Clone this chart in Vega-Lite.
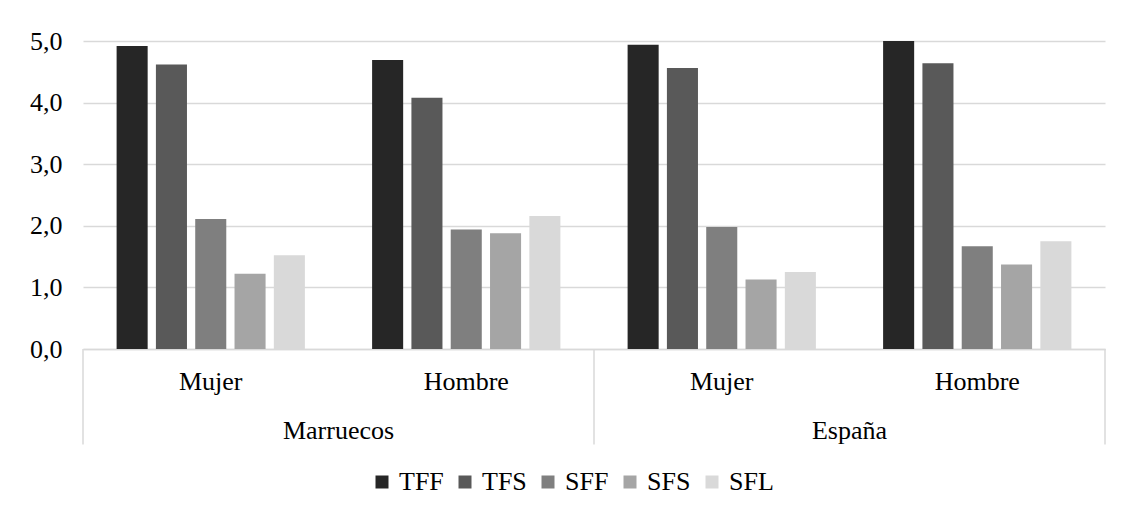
{
  "$schema": "https://vega.github.io/schema/vega-lite/v6.json",
  "autosize": {"type": "none"},
  "padding": {"left": 83, "top": 41, "right": 18, "bottom": 164},
  "width": 1022,
  "height": 308,
  "background": "white",
  "config": {
    "view": {"stroke": null},
    "font": "Liberation Serif",
    "axis": {"labelFont": "Liberation Serif", "labelColor": "#000000", "titleFont": "Liberation Serif"},
    "legend": {"labelFont": "Liberation Serif"}
  },
  "resolve": {"axis": {"x": "independent"}},
  "layer": [
    {
      "data": {
        "values": [
          {"grp": "Marruecos|Mujer", "serie": "TFF", "valor": 4.92},
          {"grp": "Marruecos|Mujer", "serie": "TFS", "valor": 4.62},
          {"grp": "Marruecos|Mujer", "serie": "SFF", "valor": 2.11},
          {"grp": "Marruecos|Mujer", "serie": "SFS", "valor": 1.22},
          {"grp": "Marruecos|Mujer", "serie": "SFL", "valor": 1.52},
          {"grp": "Marruecos|Hombre", "serie": "TFF", "valor": 4.69},
          {"grp": "Marruecos|Hombre", "serie": "TFS", "valor": 4.08},
          {"grp": "Marruecos|Hombre", "serie": "SFF", "valor": 1.94},
          {"grp": "Marruecos|Hombre", "serie": "SFS", "valor": 1.88},
          {"grp": "Marruecos|Hombre", "serie": "SFL", "valor": 2.16},
          {"grp": "España|Mujer", "serie": "TFF", "valor": 4.94},
          {"grp": "España|Mujer", "serie": "TFS", "valor": 4.56},
          {"grp": "España|Mujer", "serie": "SFF", "valor": 1.98},
          {"grp": "España|Mujer", "serie": "SFS", "valor": 1.13},
          {"grp": "España|Mujer", "serie": "SFL", "valor": 1.25},
          {"grp": "España|Hombre", "serie": "TFF", "valor": 5.0},
          {"grp": "España|Hombre", "serie": "TFS", "valor": 4.64},
          {"grp": "España|Hombre", "serie": "SFF", "valor": 1.67},
          {"grp": "España|Hombre", "serie": "SFS", "valor": 1.37},
          {"grp": "España|Hombre", "serie": "SFL", "valor": 1.75}
        ]
      },
      "mark": {"type": "bar"},
      "encoding": {
        "x": {
          "field": "grp", "type": "nominal",
          "scale": {"domain": ["Marruecos|Mujer", "Marruecos|Hombre", "España|Mujer", "España|Hombre"], "paddingInner": 0, "paddingOuter": 0},
          "axis": {
            "orient": "bottom",
            "title": null, "labelAngle": 0, "ticks": false,
            "labelExpr": "split(datum.value, '|')[1]",
            "labelFontSize": 26, "labelPadding": 19,
            "domainColor": "#d9d9d9", "domainWidth": 1.5
          }
        },
        "xOffset": {
          "field": "serie", "type": "nominal",
          "scale": {"domain": ["TFF", "TFS", "SFF", "SFS", "SFL"], "paddingInner": 0.21, "paddingOuter": 0.855}
        },
        "y": {
          "field": "valor", "type": "quantitative",
          "scale": {"domain": [0, 5]},
          "axis": {
            "title": null, "values": [0, 1, 2, 3, 4, 5],
            "labelExpr": "replace(format(datum.value, '.1f'), '.', ',')",
            "labelFontSize": 26, "labelPadding": 21,
            "domain": false, "ticks": false,
            "gridColor": "#d9d9d9", "gridWidth": 1.5
          }
        },
        "color": {
          "field": "serie", "type": "nominal",
          "scale": {
            "domain": ["TFF", "TFS", "SFF", "SFS", "SFL"],
            "range": ["#262626", "#595959", "#7f7f7f", "#a5a5a5", "#d9d9d9"]
          },
          "legend": {
            "title": null, "orient": "none", "direction": "horizontal",
            "legendX": 286, "legendY": 428,
            "symbolType": "square", "symbolSize": 169, "symbolStrokeWidth": 0,
            "labelFontSize": 26, "labelColor": "#000000", "labelOffset": 4,
            "columnPadding": 8
          }
        }
      }
    },
    {
      "data": {"values": [{"grp": "Marruecos|Mujer"}, {"grp": "España|Mujer"}]},
      "mark": {"type": "rule", "color": "#d9d9d9", "strokeWidth": 1.5},
      "encoding": {
        "x": {
          "field": "grp", "type": "nominal", "bandPosition": 0,
          "scale": {"domain": ["Marruecos|Mujer", "Marruecos|Hombre", "España|Mujer", "España|Hombre"]},
          "axis": {
            "orient": "bottom",
            "title": null, "labelAngle": 0, "ticks": false, "domain": false,
            "labelExpr": "datum.value == 'Marruecos|Mujer' ? 'Marruecos' : (datum.value == 'España|Mujer' ? 'España' : '')",
            "labelOffset": 127.75, "labelFontSize": 26, "labelPadding": 68
          }
        },
        "y": {"datum": 0},
        "y2": {"datum": -1.55}
      }
    },
    {
      "data": {"values": [{"grp": "España|Hombre"}]},
      "mark": {"type": "rule", "color": "#d9d9d9", "strokeWidth": 1.5},
      "encoding": {
        "x": {
          "field": "grp", "type": "nominal", "bandPosition": 1, "axis": null,
          "scale": {"domain": ["Marruecos|Mujer", "Marruecos|Hombre", "España|Mujer", "España|Hombre"]}
        },
        "y": {"datum": 0},
        "y2": {"datum": -1.55}
      }
    }
  ]
}
